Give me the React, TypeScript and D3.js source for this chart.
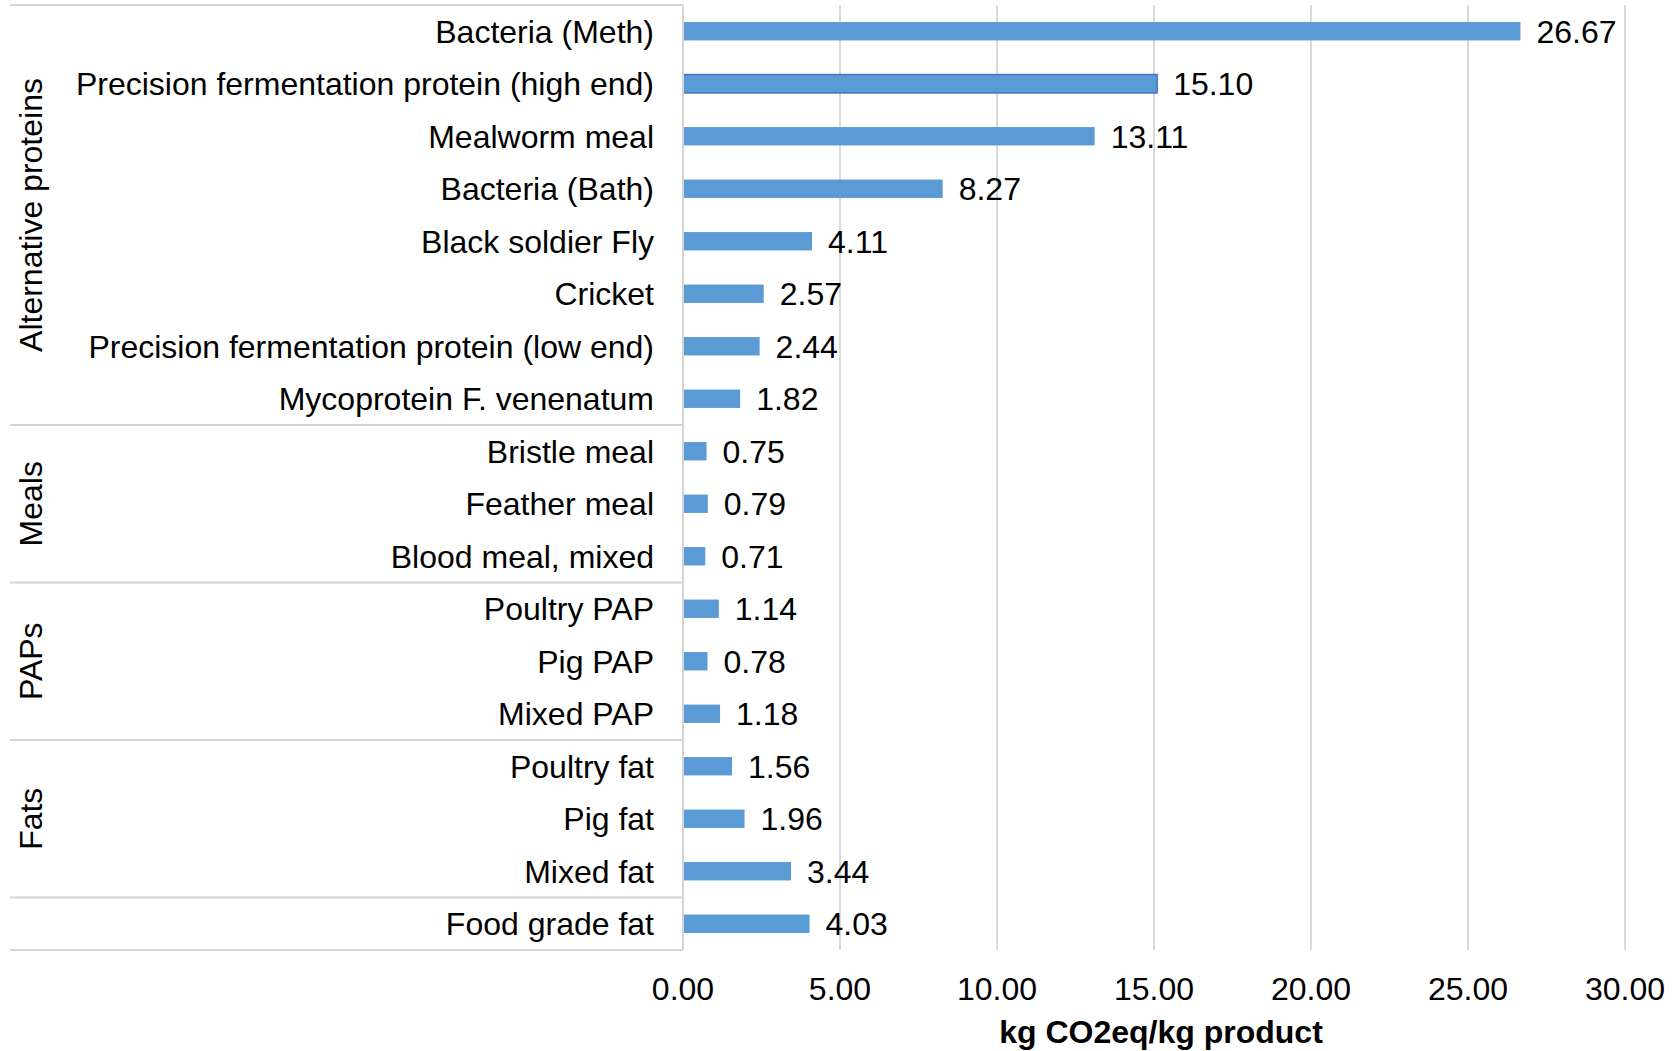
import React from "react";
import * as d3 from "d3";

const categories = [
  "Bacteria (Meth)",
  "Precision fermentation protein (high end)",
  "Mealworm meal",
  "Bacteria (Bath)",
  "Black soldier Fly",
  "Cricket",
  "Precision fermentation protein (low end)",
  "Mycoprotein F. venenatum",
  "Bristle meal",
  "Feather meal",
  "Blood meal, mixed",
  "Poultry PAP",
  "Pig PAP",
  "Mixed PAP",
  "Poultry fat",
  "Pig fat",
  "Mixed fat",
  "Food grade fat",
];
const values = [26.67, 15.1, 13.11, 8.27, 4.11, 2.57, 2.44, 1.82, 0.75, 0.79, 0.71, 1.14, 0.78, 1.18, 1.56, 1.96, 3.44, 4.03];
const groupNames = ["Alternative proteins", "Meals", "PAPs", "Fats", ""];
const groupSizes = [8, 3, 3, 3, 1];
const xTicks = [0, 5, 10, 15, 20, 25, 30];
const axisTitle = "kg CO2eq/kg product";
const highlighted = "Precision fermentation protein (high end)";

const W = 1673;
const H = 1051;
const left = 683;
const right = 1625;
const top = 5;
const bottom = 950;
const FS = 32;
const FONT = "'Liberation Sans', Arial, Helvetica, sans-serif";

export default function App() {
  const x = d3.scaleLinear().domain([0, 30]).range([left, right]);
  const y = d3.scaleBand<string>().domain(categories).range([top, bottom]).paddingInner(0).paddingOuter(0);
  const bw = y.bandwidth();
  const barH = bw * 0.35;
  const fmt = d3.format(".2f");

  const bounds: { start: number; end: number; name: string }[] = [];
  let idx = 0;
  groupNames.forEach((n, i) => {
    const start = idx;
    idx += groupSizes[i];
    bounds.push({ start, end: idx, name: n });
  });
  const yAt = (i: number) => top + i * bw;

  return (
    <svg
      width={W}
      height={H}
      style={{ position: "absolute", left: 0, top: 0, background: "#fff" }}
      fontFamily={FONT}
    >
      {xTicks.map((t) => (
        <line key={"g" + t} x1={x(t)} x2={x(t)} y1={top} y2={bottom} stroke="#d9d9d9" strokeWidth={2} />
      ))}
      {[0, ...bounds.map((b) => b.end)].map((i) => (
        <line key={"s" + i} x1={10} x2={left} y1={yAt(i)} y2={yAt(i)} stroke="#d4d4d4" strokeWidth={2} />
      ))}
      {categories.map((c, i) => (
        <rect
          key={c}
          x={x(0)}
          y={(y(c) as number) + bw / 2 - barH / 2}
          width={x(values[i]) - x(0)}
          height={barH}
          fill="#5B9BD5"
          stroke={c === highlighted ? "#4472C4" : "none"}
          strokeWidth={c === highlighted ? 1.5 : 0}
        />
      ))}
      {categories.map((c, i) => (
        <text
          key={"v" + c}
          x={x(values[i]) + 16}
          y={(y(c) as number) + bw / 2}
          dy="0.36em"
          fontSize={FS}
          fill="#000"
        >
          {fmt(values[i])}
        </text>
      ))}
      {categories.map((c) => (
        <text
          key={"c" + c}
          x={left - 29}
          y={(y(c) as number) + bw / 2}
          dy="0.36em"
          textAnchor="end"
          fontSize={FS}
          fill="#000"
        >
          {c}
        </text>
      ))}
      {bounds.map((b) =>
        b.name ? (
          <text
            key={"gl" + b.name}
            transform={`translate(30,${(yAt(b.start) + yAt(b.end)) / 2}) rotate(-90)`}
            textAnchor="middle"
            dy="0.36em"
            fontSize={FS}
            fill="#000"
          >
            {b.name}
          </text>
        ) : null
      )}
      <line x1={left} x2={left} y1={top} y2={bottom} stroke="#d4d4d4" strokeWidth={2} />
      {xTicks.map((t) => (
        <text key={"t" + t} x={x(t)} y={988} dy="0.36em" textAnchor="middle" fontSize={FS} fill="#000">
          {fmt(t)}
        </text>
      ))}
      <text x={1161} y={1031} dy="0.36em" textAnchor="middle" fontSize={FS} fontWeight="bold" fill="#000">
        {axisTitle}
      </text>
    </svg>
  );
}
